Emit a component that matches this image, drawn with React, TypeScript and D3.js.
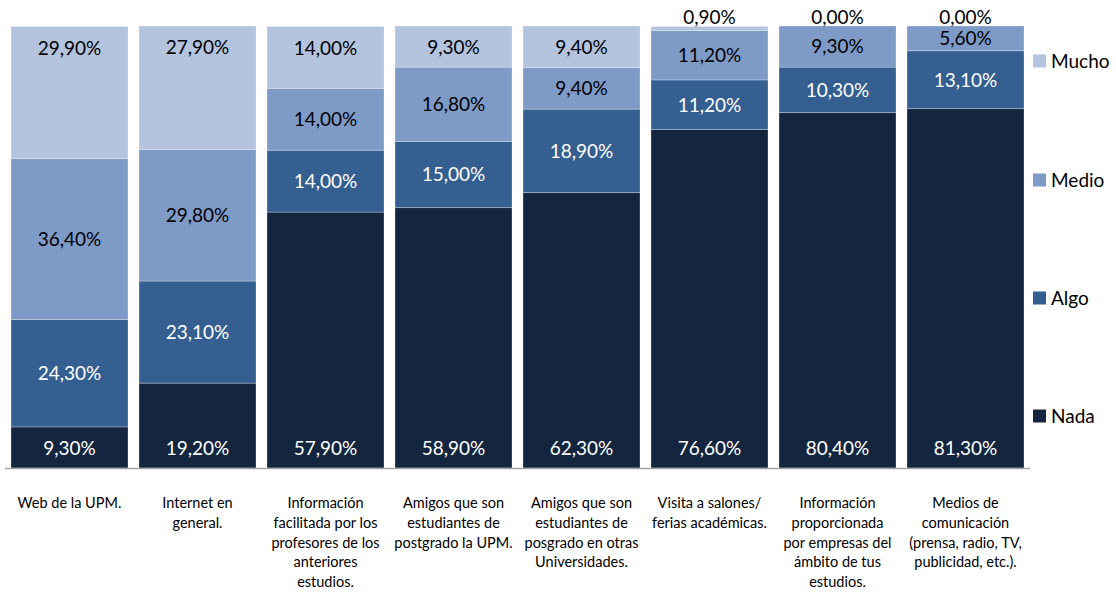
import React from "react";
import * as d3 from "d3";

const categories: string[][] = [
  ["Web de la UPM."],
  ["Internet en", "general."],
  ["Información", "facilitada por los", "profesores de los", "anteriores", "estudios."],
  ["Amigos que son", "estudiantes de", "postgrado la UPM."],
  ["Amigos que son", "estudiantes de", "posgrado en otras", "Universidades."],
  ["Visita a salones/", "ferias académicas."],
  ["Información", "proporcionada", "por empresas del", "ámbito de tus", "estudios."],
  ["Medios de", "comunicación", "(prensa, radio, TV,", "publicidad, etc.)."],
];

const seriesNames = ["Nada", "Algo", "Medio", "Mucho"];
const nada = [9.3, 19.2, 57.9, 58.9, 62.3, 76.6, 80.4, 81.3];
const algo = [24.3, 23.1, 14.0, 15.0, 18.9, 11.2, 10.3, 13.1];
const medio = [36.4, 29.8, 14.0, 16.8, 9.4, 11.2, 9.3, 5.6];
const mucho = [29.9, 27.9, 14.0, 9.3, 9.4, 0.9, 0.0, 0.0];

const colors = ["#14253F", "#355F91", "#7E9AC7", "#B4C3DE"];
const textColors = ["#ffffff", "#ffffff", "#000000", "#000000"];

const W = 1116;
const H = 594;
const FONT = "Lato, 'Open Sans', sans-serif";

export default function App() {
  const seriesValues = [nada, algo, medio, mucho];
  const idx = categories.map((_, i) => i);
  const x = d3
    .scaleBand<number>()
    .domain(idx)
    .range([5.5, 5.5 + 8 * 128])
    .paddingInner(11 / 128)
    .paddingOuter(11 / 256);
  const y = d3.scaleLinear().domain([0, 100]).range([468, 26]);

  const rows = idx.map((i) => {
    const r: Record<string, number> = {};
    seriesNames.forEach((s, k) => (r[s] = seriesValues[k][i]));
    return r;
  });
  const stack = d3.stack<Record<string, number>>().keys(seriesNames);
  const stacked = stack(rows);
  const fmt = (v: number) => v.toFixed(2).replace(".", ",") + "%";

  const legendYs = [416, 298, 180, 61];

  const labelY = (k: number, y0: number, y1: number) => {
    const h = y0 - y1;
    if (k === 0) return y0 - 19.5;
    if (k === 3) return h < 20 ? y1 - 9 : y1 + 21.5;
    return (y0 + y1) / 2;
  };

  return (
    <svg width={W} height={H} style={{ position: "absolute", left: 0, top: 0 }} fontFamily={FONT}>
      <rect width={W} height={H} fill="#ffffff" />
      {stacked.map((layer, k) => (
        <g key={layer.key}>
          {layer.map((d, i) => {
            const y0 = y(d[0]);
            const y1 = y(d[1]);
            const h = y0 - y1;
            return (
              <rect
                key={i}
                x={x(i)}
                y={y1}
                width={x.bandwidth()}
                height={Math.max(0, h)}
                fill={colors[k]}
                stroke="rgba(255,255,255,0.35)"
                strokeWidth={0.8}
              />
            );
          })}
        </g>
      ))}
      {stacked.map((layer, k) => (
        <g key={"l" + layer.key}>
          {layer.map((d, i) => {
            const y0 = y(d[0]);
            const y1 = y(d[1]);
            const small = y0 - y1 < 20;
            const cy = labelY(k, y0, y1);
            return (
              <text
                key={i}
                x={(x(i) as number) + x.bandwidth() / 2}
                y={cy}
                dy="0.36em"
                textAnchor="middle"
                fontSize={19}
                fill={small && k === 3 ? "#000000" : textColors[k]}
              >
                {fmt(seriesValues[k][i])}
              </text>
            );
          })}
        </g>
      ))}
      <line x1={5} x2={1030} y1={468.5} y2={468.5} stroke="#A6A6A6" strokeWidth={1.5} />
      {categories.map((lines, i) => (
        <text
          key={"c" + i}
          x={(x(i) as number) + x.bandwidth() / 2}
          y={503}
          textAnchor="middle"
          fontSize={14.5}
          fill="#000000"
        >
          {lines.map((ln, j) => (
            <tspan key={j} x={(x(i) as number) + x.bandwidth() / 2} y={503 + j * 19.7} dy="0.36em">
              {ln}
            </tspan>
          ))}
        </text>
      ))}
      {seriesNames.map((s, k) => (
        <g key={"lg" + s}>
          <rect x={1033} y={legendYs[k] - 6.5} width={13} height={13} fill={colors[k]} />
          <text x={1051} y={legendYs[k]} dy="0.36em" fontSize={19} fill="#000000">
            {s}
          </text>
        </g>
      ))}
    </svg>
  );
}
